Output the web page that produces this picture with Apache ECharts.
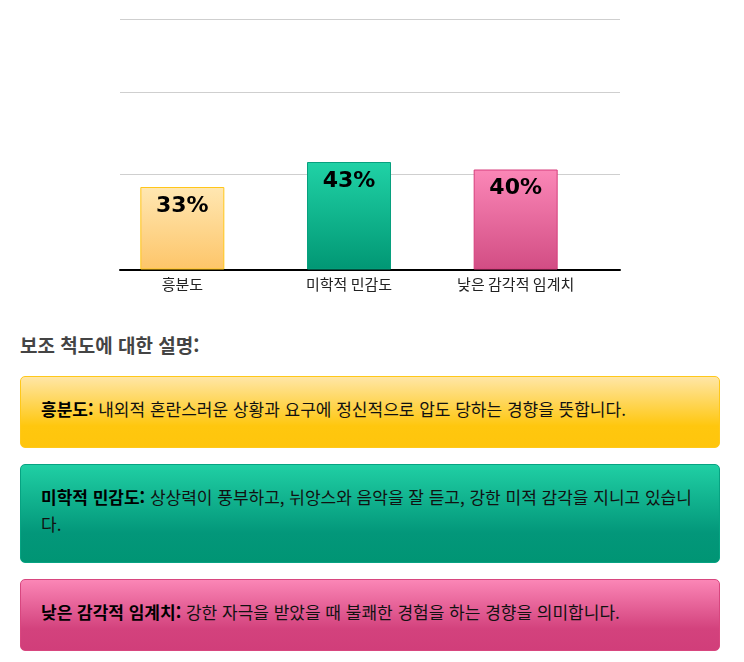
<!DOCTYPE html>
<html lang="ko">
<head>
<meta charset="utf-8">
<script src="https://cdn.jsdelivr.net/npm/echarts@6/dist/echarts.min.js"></script>
<style>
  html, body { margin: 0; padding: 0; background: #fff; }
  body { width: 744px; font-family: "Noto Sans CJK KR", "Noto Sans", sans-serif; }
  #chart { width: 744px; height: 315px; }
  .info { padding: 0 24px 0 20px; }
  h3 { margin: 15px 0 16px 0; font-size: 19px; line-height: 30px; color: #444; font-weight: bold; }
  .box { border: 1px solid; border-radius: 5px; padding: 18px 20px 25px 20px; margin-bottom: 16px;
         font-size: 17px; line-height: 27px; color: #111; }
  .box b { color: #000; }
  .y { background: linear-gradient(to bottom, #ffe6a6 0%, #ffc70e 70%, #ffc50c 100%); border-color: #ffc81a; }
  .g { background: linear-gradient(to bottom, #20cfa4 0%, #03977a 70%, #009574 100%); border-color: #07a382; }
  .p { background: linear-gradient(to bottom, #fb86b6 0%, #d3427d 70%, #d13e7a 100%); border-color: #d8467f; }
</style>
</head>
<body>
<div id="chart"></div>
<div class="info">
  <h3>보조 척도에 대한 설명:</h3>
  <div class="box y"><b>흥분도:</b> 내외적 혼란스러운 상황과 요구에 정신적으로 압도 당하는 경향을 뜻합니다.</div>
  <div class="box g"><b>미학적 민감도:</b> 상상력이 풍부하고, 뉘앙스와 음악을 잘 듣고, 강한 미적 감각을 지니고 있습니다.</div>
  <div class="box p"><b>낮은 감각적 임계치:</b> 강한 자극을 받았을 때 불쾌한 경험을 하는 경향을 의미합니다.</div>
</div>
<script>
const categories = ['흥분도', '미학적 민감도', '낮은 감각적 임계치'];
const percentValues = [33, 43, 40];
const gridLineValues = [38, 71, 100];

const barColors = [
  { top: '#ffe7b2', bottom: '#fdc569', border: '#ffc61a' },
  { top: '#20d2a6', bottom: '#019774', border: '#07a07e' },
  { top: '#fb87b7', bottom: '#d24d84', border: '#d63e7c' }
];

const chart = echarts.init(document.getElementById('chart'), null, { renderer: 'canvas' });
chart.setOption({
  animation: false,
  grid: [
    { left: 99, width: 500, top: 19.5, height: 250 },
    { left: 120, width: 500, top: 19.5, height: 250 }
  ],
  xAxis: [
    {
      type: 'category', gridIndex: 0, data: categories,
      axisLine: { show: false }, axisTick: { show: false },
      axisLabel: { fontSize: 15, color: '#222', margin: 7, fontFamily: 'Noto Sans CJK KR' }
    },
    {
      type: 'value', gridIndex: 1, min: 0, max: 1,
      axisLine: { show: true, onZero: false, lineStyle: { color: '#000', width: 2 } },
      axisTick: { show: false }, axisLabel: { show: false }, splitLine: { show: false }
    }
  ],
  yAxis: [
    { type: 'value', gridIndex: 0, min: 0, max: 100, show: false },
    { type: 'value', gridIndex: 1, min: 0, max: 100, show: false }
  ],
  series: [
    {
      type: 'line', xAxisIndex: 1, yAxisIndex: 1, data: [], z: 0, silent: true,
      markLine: {
        z: 0, silent: true, symbol: 'none', label: { show: false },
        lineStyle: { color: '#cfcfcf', width: 1, type: 'solid' },
        data: gridLineValues.map(v => ({ yAxis: v }))
      }
    },
    {
      type: 'bar', xAxisIndex: 0, yAxisIndex: 0, z: 3, barWidth: 84,
      data: percentValues.map((v, i) => ({
        value: v,
        itemStyle: {
          color: new echarts.graphic.LinearGradient(0, 0, 0, 1, [
            { offset: 0, color: barColors[i].top },
            { offset: 1, color: barColors[i].bottom }
          ]),
          borderColor: barColors[i].border, borderWidth: 1
        }
      })),
      label: {
        show: true, position: 'insideTop', distance: 8,
        formatter: p => p.value + '%',
        fontFamily: 'DejaVu Sans', fontWeight: 'bold', fontSize: 22, color: '#000'
      }
    }
  ]
});
</script>
</body>
</html>
